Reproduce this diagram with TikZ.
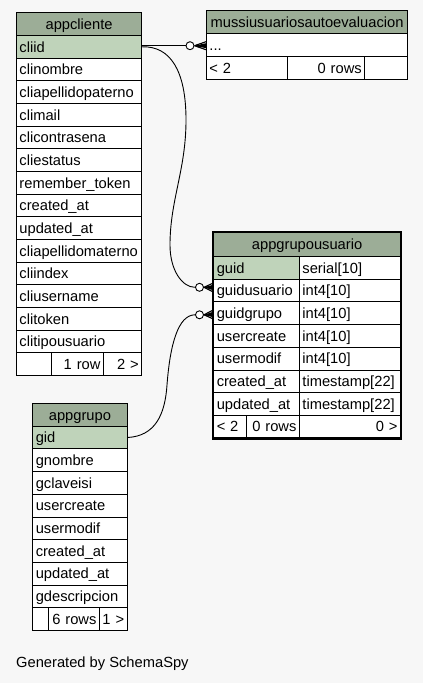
\documentclass[tikz,border=0pt]{standalone}
\usepackage{fontspec}
\setmainfont{Liberation Sans}
\definecolor{bgc}{HTML}{F7F7F7}
\definecolor{hdrc}{HTML}{9CAD97}
\definecolor{keyc}{HTML}{BFD3BA}
\tikzset{
  cell/.style={draw=black, line width=0.9pt, anchor=north west, inner xsep=3pt, inner ysep=0pt,
    text height=10.5pt, text depth=0pt, font=\fontsize{14.7}{17}\selectfont, fill=white, align=left},
  plain/.style={},
  hdr/.style={fill=hdrc, align=center},
  keyrow/.style={fill=keyc},
  rgt/.style={align=right},
  odot/.style={circle, draw=black, line width=0.9pt, fill=white, minimum size=8pt, inner sep=0pt},
  conn/.style={draw=black, line width=0.9pt},
  crow/.style={draw=black, fill=black, line width=1.1pt, line join=miter},
}
\newcommand\tcell[7]{\pgfmathsetmacro\tcw{#4-6}\node[cell,#6,text width=\tcw pt,minimum height=#5pt] (#1) at (#2,#3) {#7};}
\newcommand\crowfoot[2]{\draw[crow] (#1.east) -- ([yshift=4pt]#2) (#1.east) -- ([yshift=-4pt]#2) (#1.east) -- (#2);
  \fill[black] (#1.east) -- ([yshift=2.5pt]#2) -- ([yshift=-2.5pt]#2) -- cycle;}
\begin{document}
\begin{tikzpicture}[x=1pt,y=-1pt]
\useasboundingbox (0,0) rectangle (423,683);
\fill[bgc] (0,0) rectangle (423,683);
% appcliente
\tcell{clih}{16}{12.3}{125.3}{22.7}{hdr}{appcliente}
\tcell{cli0}{16}{35}{125.3}{22.67}{keyrow}{cliid}
\foreach \t [count=\k] in {clinombre,cliapellidopaterno,climail,clicontrasena,cliestatus,remember\_token,created\_at,updated\_at,cliapellidomaterno,cliindex,cliusername,clitoken,clitipousuario}{
  \pgfmathsetmacro\yy{35+\k*22.67}
  \tcell{cli\k}{16}{\yy}{125.3}{22.67}{plain}{\t}
}
\tcell{clif1}{16}{352.4}{35}{22.67}{plain}{}
\tcell{clif2}{51}{352.4}{52}{22.67}{rgt}{1 row}
\tcell{clif3}{103}{352.4}{38.3}{22.67}{rgt}{2 >}
% mussiusuariosautoevaluacion
\tcell{muh}{206}{10}{201.3}{23.3}{hdr}{mussiusuariosautoevaluacion}
\tcell{mu1}{206}{33.3}{201.3}{22.7}{plain}{...}
\tcell{muf1}{206}{56}{80.7}{23}{plain}{< 2}
\tcell{muf2}{286.7}{56}{77.6}{23}{rgt}{0 rows}
\tcell{muf3}{364.3}{56}{43}{23}{plain}{}
% appgrupousuario
\tcell{guh}{213.3}{231.7}{186.7}{24.3}{hdr}{appgrupousuario}
\tcell{gua0}{213.3}{256}{85.7}{22.7}{keyrow}{guid}
\tcell{gub0}{299}{256}{101}{22.7}{plain}{serial[10]}
\foreach \a/\b [count=\k] in {guidusuario/int4[10],guidgrupo/int4[10],usercreate/int4[10],usermodif/int4[10],created\_at/timestamp[22],updated\_at/timestamp[22]}{
  \pgfmathsetmacro\yy{256+\k*22.7}
  \tcell{gua\k}{213.3}{\yy}{85.7}{22.7}{plain}{\a}
  \tcell{gub\k}{299}{\yy}{101}{22.7}{plain}{\b}
}
\tcell{guf1}{213.3}{414.9}{32.4}{22.7}{plain}{< 2}
\tcell{guf2}{245.7}{414.9}{53.3}{22.7}{rgt}{0 rows}
\tcell{guf3}{299}{414.9}{101}{22.7}{rgt}{0 >}
\draw[line width=2.2pt] (guh.north west) rectangle (guf3.south east);
% appgrupo
\tcell{gh}{32.3}{403.3}{94.4}{22.4}{hdr}{appgrupo}
\tcell{g0}{32.3}{425.7}{94.4}{22.7}{keyrow}{gid}
\foreach \t [count=\k] in {gnombre,gclaveisi,usercreate,usermodif,created\_at,updated\_at,gdescripcion}{
  \pgfmathsetmacro\yy{425.7+\k*22.7}
  \tcell{g\k}{32.3}{\yy}{94.4}{22.7}{plain}{\t}
}
\tcell{gf1}{32.3}{607.3}{15.4}{22.7}{plain}{}
\tcell{gf2}{47.7}{607.3}{51.3}{22.7}{rgt}{6 rows}
\tcell{gf3}{99}{607.3}{27.7}{22.7}{rgt}{1 >}
% footer text
\node[anchor=west, inner sep=0pt, font=\fontsize{14.7}{17}\selectfont] (gen) at (16,664) {Generated by SchemaSpy};
% connectors
\node[odot] (o1) at (190,45.7) {};
\coordinate (t1) at (206,45.7);
\draw[conn] (cli0.east |- o1) -- (o1.west);
\crowfoot{o1}{t1}

\node[odot] (o2) at (199.5,287.3) {};
\coordinate (t2) at (212.3,287.5);
\draw[conn] (cli0.east) .. controls (170,46) and (186,70) .. (186,120)
  .. controls (186,170) and (170,200) .. (170,245)
  .. controls (170,270) and (182,287.3) .. (o2.west);
\crowfoot{o2}{t2}

\node[odot] (o3) at (199.5,314.8) {};
\coordinate (t3) at (212.3,314.5);
\draw[conn] (g0.east) .. controls (155,436) and (165,415) .. (167,385)
  .. controls (170,345) and (178,314.8) .. (o3.west);
\crowfoot{o3}{t3}
\end{tikzpicture}
\end{document}
